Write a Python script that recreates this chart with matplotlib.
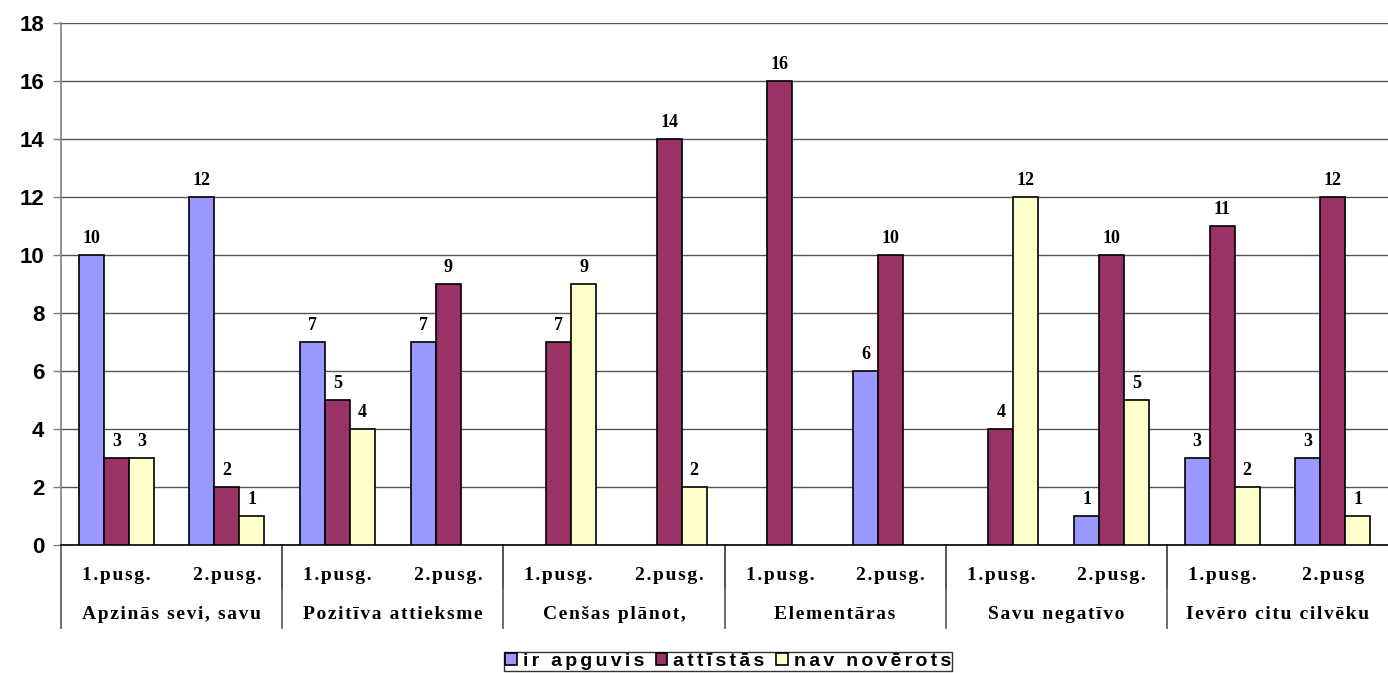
import matplotlib
matplotlib.use('Agg')
import numpy as np
from matplotlib import pyplot as plt
from matplotlib.lines import Line2D
from matplotlib.patches import Patch

groups = ['Apzinās sevi, savu', 'Pozitīva attieksme', 'Cenšas plānot,',
          'Elementāras', 'Savu negatīvo', 'Ievēro citu cilvēku']
halves = ['1.pusg.', '2.pusg.'] * 5 + ['1.pusg.', '2.pusg']

series_names = ['ir apguvis', 'attīstās', 'nav novērots']
ir_apguvis = [10, 12, 7, 7, 0, 0, 0, 6, 0, 1, 3, 3]
attistas = [3, 2, 5, 9, 7, 14, 16, 10, 4, 10, 11, 12]
nav_noverots = [3, 1, 4, 0, 9, 2, 0, 0, 12, 5, 2, 1]
colors = ['#9999FF', '#993366', '#FFFFCC']

y_ticks = [0, 2, 4, 6, 8, 10, 12, 14, 16, 18]


def spaced(s, sep='\u200a'):
    return sep.join(s)


fig = plt.figure(figsize=(13.88, 6.73), dpi=100)
ax = fig.add_axes([0.0440, 0.1902, 0.956, 0.7756])

x = np.arange(len(halves))
w = 0.226
for i, vals in enumerate([ir_apguvis, attistas, nav_noverots]):
    vals = np.array(vals)
    keep = vals > 0  # empty cells get no bar and no label
    pos = (x + (i - 1) * w)[keep]
    ax.bar(pos, vals[keep], width=w, color=colors[i], edgecolor='black', linewidth=1.2, zorder=3)
    for px, v in zip(pos, vals[keep]):
        ax.annotate(str(v), (px, v), xytext=(0, 6), textcoords='offset points',
                    ha='center', va='bottom', fontsize=13, fontweight='bold',
                    family='Liberation Serif')

ax.set_xlim(-0.5, len(halves) - 0.5)
ax.set_ylim(0, 18)
ax.set_yticks(y_ticks)
ax.set_yticklabels([str(t) for t in y_ticks], fontsize=16, fontweight='bold',
                   family='Liberation Sans')
ax.tick_params(axis='y', length=6, width=1, color='#808080', pad=6)
ax.set_xticks([])
ax.yaxis.grid(True, color='#555555', linewidth=1)
ax.set_axisbelow(True)

for s in ['top', 'right']:
    ax.spines[s].set_visible(False)
ax.spines['left'].set_color('#808080')
ax.spines['left'].set_linewidth(1.2)
ax.spines['bottom'].set_color('black')
ax.spines['bottom'].set_linewidth(1.2)

# two-level category axis
trans = ax.get_xaxis_transform()
cat_font = dict(fontsize=14, fontweight='bold', family=['Liberation Serif', 'DejaVu Serif'])
for k, lab in enumerate(halves):
    ax.text(k, -0.0575, spaced(lab), transform=trans, ha='center', va='center', **cat_font)
    if k % 2 == 1 and k < len(halves) - 1:
        ax.add_line(Line2D([k + 0.5, k + 0.5], [0, -0.0824], transform=trans,
                           color='#555555', lw=1.2, clip_on=False))
for g, lab in enumerate(groups):
    ax.text(2 * g + 0.5, -0.134, spaced(lab), transform=trans, ha='center', va='center', **cat_font)
    ax.add_line(Line2D([2 * g - 0.5, 2 * g - 0.5], [0, -0.159], transform=trans,
                       color='#555555', lw=1.2, clip_on=False))

handles = [Patch(facecolor=c, edgecolor='black', linewidth=1.2) for c in colors]
leg = fig.legend(handles, [spaced(n, '\u200a\u200a') for n in series_names], loc='upper center',
                 bbox_to_anchor=(0.5245, 0.0312), ncol=3, frameon=True, fancybox=False,
                 prop={'family': ['Liberation Sans', 'DejaVu Sans'], 'weight': 'bold', 'size': 14},
                 handlelength=0.6, handleheight=0.6, handletextpad=0.3,
                 columnspacing=0.6, borderpad=0.05, borderaxespad=0)
leg.get_frame().set_edgecolor('black')
leg.get_frame().set_linewidth(1)

fig.savefig('out.png', dpi=100)
